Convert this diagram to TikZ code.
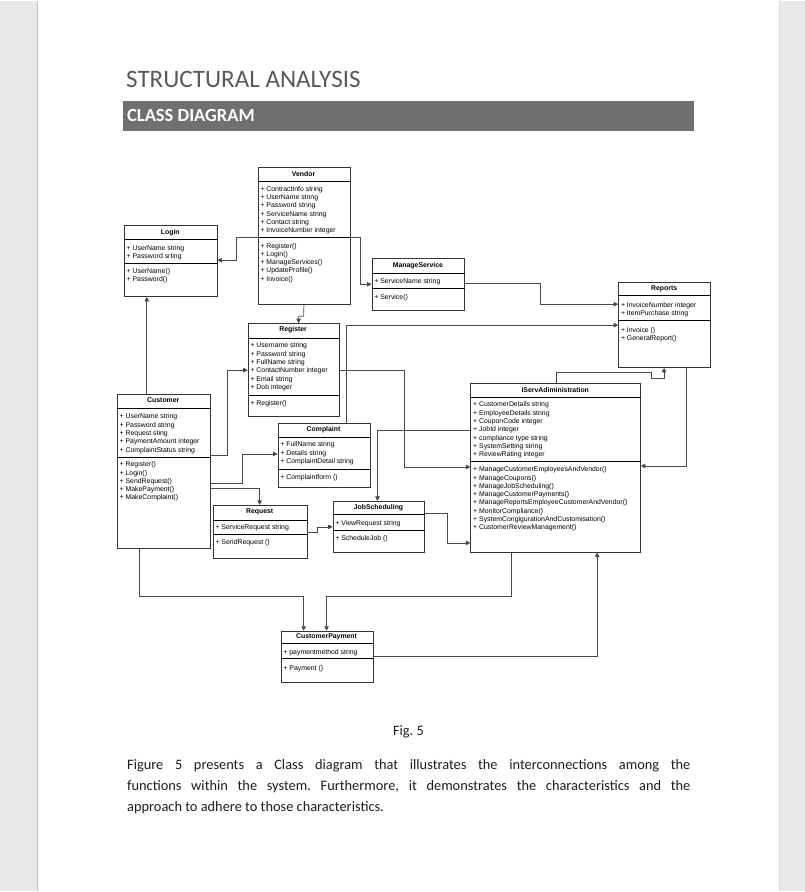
\documentclass[tikz,border=0pt]{standalone}
\usepackage{fontspec}
\setmainfont{Carlito}
\newfontfamily\umlfont{Liberation Sans}
\usetikzlibrary{arrows.meta}
\frenchspacing

\definecolor{deskgray}{HTML}{E9E9E9}
\definecolor{bargray}{HTML}{707070}
\definecolor{headgray}{HTML}{595959}
\definecolor{inkgray}{HTML}{1E1E1E}

\begin{document}
\begin{tikzpicture}[x=1pt, y=-1pt, line width=0.7pt, line join=miter,
  cls/.style={draw=black!80, anchor=north west, inner sep=0pt},
  ttl/.style={font=\umlfont\bfseries\fontsize{6.9}{8.3}\selectfont, inner sep=0pt},
  mbr/.style={font=\umlfont\fontsize{6.9}{8.3}\selectfont, anchor=north west, align=left, inner sep=0pt},
  wire/.style={draw=black!72}]
  \def\arr{-{Triangle[width=4.5pt,length=4.5pt]}}

  % ════ page / desk ════
  \fill[deskgray] (0,0) rectangle (806,892);
  \fill[white] (38,0) rectangle (780,892);
  \draw[black!25, line width=1.2pt] (37.4,0) -- (37.4,892);
  \draw[black!15, line width=1pt] (780.5,0) -- (780.5,892);

  % ════ headings ════
  \node[anchor=base west, inner sep=0pt, text=headgray, font=\fontsize{25.1}{28}\selectfont] (head) at (126,87) {STRUCTURAL ANALYSIS};
  \fill[bargray] (123,101) rectangle (695,131);
  \node[anchor=base west, inner sep=0pt, text=white, font=\bfseries\fontsize{18.5}{22}\selectfont] (subhead) at (127,121.5) {CLASS DIAGRAM};

  % ════ Vendor ════
  \node[cls, minimum width=92pt, minimum height=137pt] (vendor) at (258,167) {};
  \node[ttl] (vendorT) at (304,174) {Vendor};
  \draw (vendor.west |- 0,181) -- (vendor.east |- 0,181);
  \draw (vendor.west |- 0,237) -- (vendor.east |- 0,237);
  \node[mbr] (vendorA) at (260.5,185.5) {+ ContractInfo string\\+ UserName string\\+ Password string\\+ ServiceName string\\+ Contact string\\+ InvoiceNumber integer};
  \node[mbr] (vendorM) at (260.5,242.5) {+ Register()\\+ Login()\\+ ManageServices()\\+ UpdateProfile()\\+ Invoice()};

  % ════ Login ════
  \node[cls, minimum width=93pt, minimum height=71pt] (login) at (124,225) {};
  \node[ttl] (loginT) at (170.5,232) {Login};
  \draw (login.west |- 0,239) -- (login.east |- 0,239);
  \draw (login.west |- 0,263) -- (login.east |- 0,263);
  \node[mbr] (loginA) at (126.5,244.5) {+ UserName string\\+ Password srting};
  \node[mbr] (loginM) at (126.5,267.5) {+ UserName()\\+ Password()};

  % ════ ManageService ════
  \node[cls, minimum width=93pt, minimum height=52pt] (mngsvc) at (372,258) {};
  \node[ttl] (mngsvcT) at (418.5,265) {ManageService};
  \draw (mngsvc.west |- 0,273) -- (mngsvc.east |- 0,273);
  \draw (mngsvc.west |- 0,288) -- (mngsvc.east |- 0,288);
  \node[mbr] (mngsvcA) at (374.5,277.5) {+ ServiceName string};
  \node[mbr] (mngsvcM) at (374.5,293.5) {+ Service()};

  % ════ Reports ════
  \node[cls, minimum width=92pt, minimum height=85pt] (reports) at (619,282) {};
  \node[ttl] (reportsT) at (665,288.5) {Reports};
  \draw (reports.west |- 0,295) -- (reports.east |- 0,295);
  \draw (reports.west |- 0,320) -- (reports.east |- 0,320);
  \node[mbr] (reportsA) at (621.5,301.5) {+ InvoiceNumber integer\\+ ItemPurchase string};
  \node[mbr] (reportsM) at (621.5,326.5) {+ Invoice ()\\+ GeneralReport()};

  % ════ Register ════
  \node[cls, minimum width=91pt, minimum height=93pt] (register) at (248,323) {};
  \node[ttl] (registerT) at (293.5,330) {Register};
  \draw (register.west |- 0,338) -- (register.east |- 0,338);
  \draw (register.west |- 0,395) -- (register.east |- 0,395);
  \node[mbr] (registerA) at (250.5,342.5) {+ Username string\\+ Password string\\+ FullName string\\+ ContactNumber integer\\+ Email string\\+ Dob integer};
  \node[mbr] (registerM) at (250.5,400.5) {+ Register()};

  % ════ Customer ════
  \node[cls, minimum width=93pt, minimum height=154pt] (customer) at (117,394) {};
  \node[ttl] (customerT) at (163.5,400.5) {Customer};
  \draw (customer.west |- 0,408) -- (customer.east |- 0,408);
  \draw (customer.west |- 0,457) -- (customer.east |- 0,457);
  \node[mbr] (customerA) at (119.5,413.5) {+ UserName string\\+ Password string\\+ Request sting\\+ PaymentAmount integer\\+ ComplaintStatus string};
  \node[mbr] (customerM) at (119.5,461.5) {+ Register()\\+ Login()\\+ SendRequest()\\+ MakePayment()\\+ MakeComplaint()};

  % ════ Complaint ════
  \node[cls, minimum width=92pt, minimum height=64pt] (complaint) at (278,423) {};
  \node[ttl] (complaintT) at (324,430) {Complaint};
  \draw (complaint.west |- 0,437) -- (complaint.east |- 0,437);
  \draw (complaint.west |- 0,469) -- (complaint.east |- 0,469);
  \node[mbr] (complaintA) at (280.5,441.5) {+ FullName string\\+ Details string\\+ ComplaintDetail string};
  \node[mbr] (complaintM) at (280.5,474.5) {+ Complaintform ()};

  % ════ Request ════
  \node[cls, minimum width=94pt, minimum height=53pt] (request) at (213,505) {};
  \node[ttl] (requestT) at (260,512) {Request};
  \draw (request.west |- 0,520) -- (request.east |- 0,520);
  \draw (request.west |- 0,534) -- (request.east |- 0,534);
  \node[mbr] (requestA) at (215.5,524.5) {+ ServiceRequest string};
  \node[mbr] (requestM) at (215.5,539.5) {+ SendRequest ()};

  % ════ JobScheduling ════
  \node[cls, minimum width=92pt, minimum height=51pt] (jobsch) at (333,501) {};
  \node[ttl] (jobschT) at (379,507.5) {JobScheduling};
  \draw (jobsch.west |- 0,514) -- (jobsch.east |- 0,514);
  \draw (jobsch.west |- 0,530) -- (jobsch.east |- 0,530);
  \node[mbr] (jobschA) at (335.5,520.5) {+ ViewRequest string};
  \node[mbr] (jobschM) at (335.5,535.5) {+ ScheduleJob ()};

  % ════ iServAdiministration ════
  \node[cls, minimum width=170pt, minimum height=169pt] (iserv) at (471,383) {};
  \node[ttl] (iservT) at (556,390) {iServAdiministration};
  \draw (iserv.west |- 0,397) -- (iserv.east |- 0,397);
  \draw (iserv.west |- 0,461) -- (iserv.east |- 0,461);
  \node[mbr] (iservA) at (473.5,401.5) {+ CustomerDetails string\\+ EmployeeDetails string\\+ CouponCode integer\\+ JobId integer\\+ compliance type string\\+ SystemSetting string\\+ ReviewRating integer};
  \node[mbr] (iservM) at (473.5,466.5) {+ ManageCustomerEmployeesAndVendor()\\+ ManageCoupons()\\+ ManageJobScheduling()\\+ ManageCustomerPayments()\\+ ManageReportsEmployeeCustomerAndVendor()\\+ MonitorCompliance()\\+ SystemCongigurationAndCustomisation()\\+ CustomerReviewManagement()};

  % ════ CustomerPayment ════
  \node[cls, minimum width=92pt, minimum height=51pt] (cpay) at (281,631) {};
  \node[ttl] (cpayT) at (327,637.5) {CustomerPayment};
  \draw (cpay.west |- 0,644) -- (cpay.east |- 0,644);
  \draw (cpay.west |- 0,659) -- (cpay.east |- 0,659);
  \node[mbr] (cpayA) at (283.5,649.5) {+ paymentmethod string};
  \node[mbr] (cpayM) at (283.5,665.5) {+ Payment ()};

  % ════ connectors ════
  \draw[wire,\arr] (vendor.west |- 0,237) -| (237,260) -- (login.east |- 0,260);
  \draw[wire,\arr] (vendor.east |- 0,237) -| (361,284) -- (mngsvc.west |- 0,284);
  \draw[wire,\arr] (vendor.south) -- (304,316) -- (299,316) -- (register.north -| 299,0);
  \draw[wire,\arr] (mngsvc.east |- 0,283) -| (541,304) -- (reports.west |- 0,304);
  \draw[wire,\arr] (complaint.north -| 347,0) |- (reports.west |- 0,325);
  \draw[wire,\arr] (customer.north -| 147,0) -- (login.south -| 147,0);
  \draw[wire,\arr] (customer.east |- 0,455) -| (228,370) -- (register.west |- 0,370);
  \draw[wire,\arr] (customer.east |- 0,483) -| (243,454) -- (complaint.west |- 0,454);
  \draw[wire,\arr] (customer.east |- 0,488) -| (request.north -| 260,0);
  \draw[wire,\arr] (register.east |- 0,370) -| (405,467) -- (iserv.west |- 0,467);
  \draw[wire,\arr] (iserv.west |- 0,430) -| (jobsch.north -| 378,0);
  \draw[wire,\arr] (request.east |- 0,532) -| (318,527) -- (jobsch.west |- 0,527);
  \draw[wire,\arr] (jobsch.east |- 0,513) -| (448,543) -- (iserv.west |- 0,543);
  \draw[wire,\arr] (iserv.north -| 557,0) |- (652,372) |- (665,378) -- (reports.south -| 665,0);
  \draw[wire,\arr] (reports.south -| 687,0) |- (iserv.east |- 0,466);
  \draw[wire,\arr] (customer.south -| 140,0) |- (304,597) -- (cpay.north -| 304,0);
  \draw[wire,\arr] (iserv.south -| 512,0) |- (327,597) -- (cpay.north -| 327,0);
  \draw[wire,\arr] (cpay.east |- 0,657) -| (iserv.south -| 598,0);

  % ════ caption and body text ════
  \node[anchor=base, inner sep=0pt, text=inkgray, font=\fontsize{14.4}{21}\selectfont] (figno) at (409,736) {Fig. 5};
  \node[anchor=north west, inner sep=0pt, text width=564pt, align=justify, text=inkgray, font=\fontsize{14.4}{21}\selectfont] (body) at (127,759.5)
    {Figure 5 presents a Class diagram that illustrates the interconnections among the\linebreak
     functions within the system. Furthermore, it demonstrates the characteristics and the\linebreak
     approach to adhere to those characteristics.};

  \path[use as bounding box] (0,0) rectangle (806,892);
\end{tikzpicture}
\end{document}
